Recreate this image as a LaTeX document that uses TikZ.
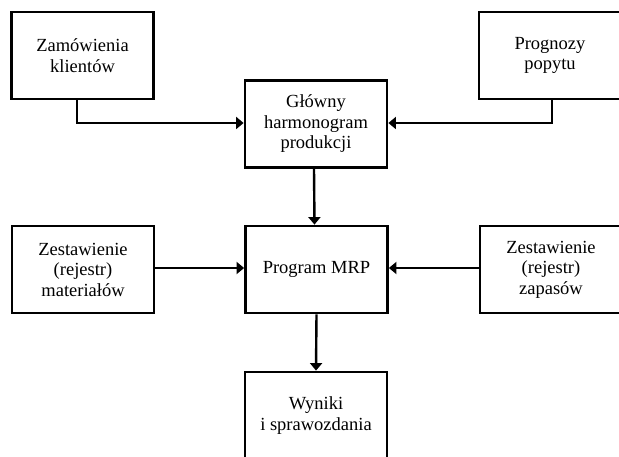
\documentclass[tikz,border=0pt]{standalone}
\usepackage{fontspec}
\setmainfont{Liberation Serif}
\usetikzlibrary{arrows.meta}
\tikzset{
  box/.style={draw=black, line width=2.8pt, minimum width=142pt, minimum height=87pt, align=center, inner sep=0pt,
    font=\fontsize{18.5}{20.5}\selectfont},
  conn/.style={line width=2.4pt, -{Triangle[length=7.5pt,width=12pt]}}
}
\begin{document}
\begin{tikzpicture}[x=1pt,y=-1pt]
\useasboundingbox (0,0) rectangle (619,457);
\clip (0,0) rectangle (619,457);
\node[box] (zam) at (82.5,55.5) {Zamówienia\\klientów};
\node[box] (prog) at (550,55.5) {Prognozy\\popytu};
\node[box] (glow) at (316,124) {Główny\\harmonogram\\produkcji};
\node[box] (mat) at (83,269.5) {Zestawienie\\(rejestr)\\materiałów};
\node[box] (mrp) at (316.5,269.5) {Program MRP};
\node[box] (zap) at (551,269.5) {Zestawienie\\(rejestr)\\zapasów};
\node[box] (wyn) at (316,415.5) {Wyniki\\ i sprawozdania};
\draw[conn] ([xshift=-5.5pt]zam.south) |- ([yshift=1pt]glow.west);
\draw[conn] ([xshift=2pt]prog.south) |- ([yshift=1pt]glow.east);
\draw[conn] ([xshift=-2pt]glow.south) -- ([xshift=-2pt]mrp.north);
\draw[conn] ([yshift=1.5pt]mat.east) -- ([yshift=1.5pt]mrp.west);
\draw[conn] ([yshift=1.5pt]zap.west) -- ([yshift=1.5pt]mrp.east);
\draw[conn] (mrp.south) -- (wyn.north);
\end{tikzpicture}
\end{document}
